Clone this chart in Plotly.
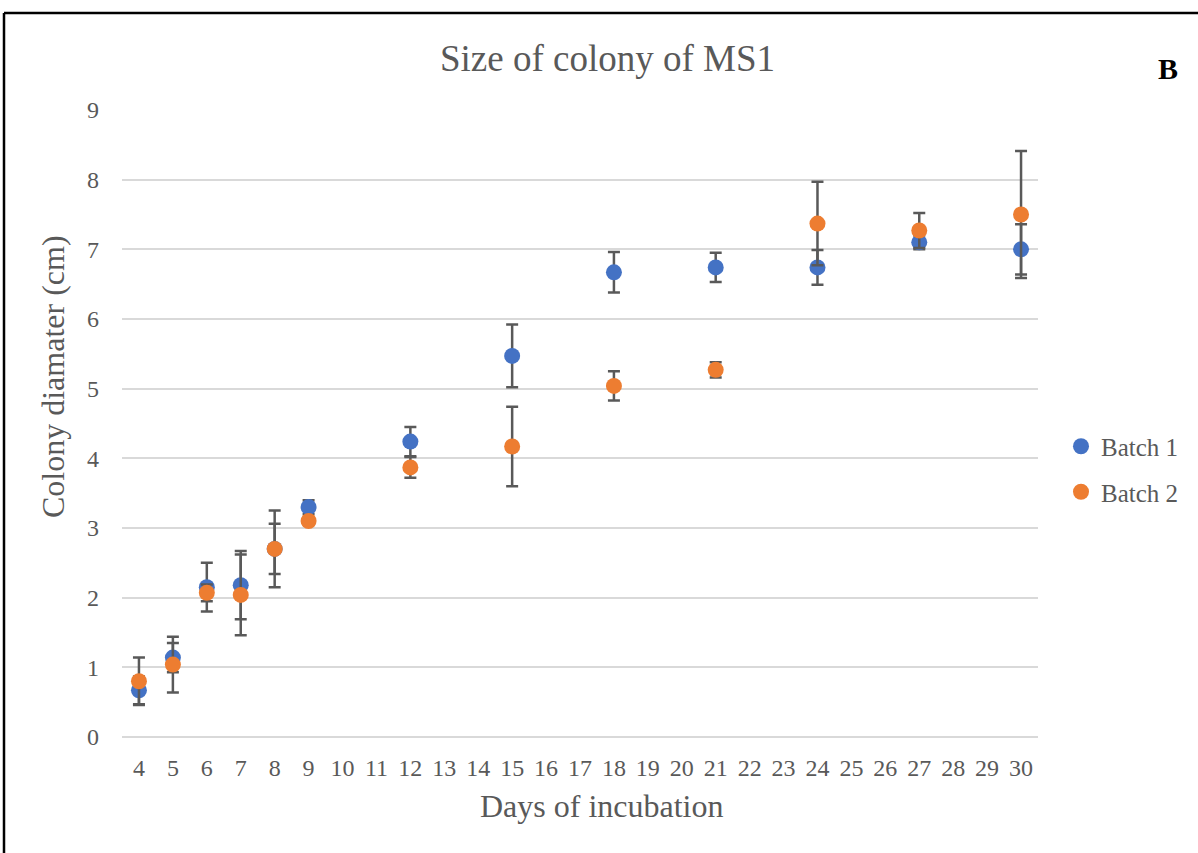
import plotly.graph_objects as go

# Colony diameter measurements (cm) by day of incubation
days = [4, 5, 6, 7, 8, 9, 12, 15, 18, 21, 24, 27, 30]
all_days = [str(d) for d in range(4, 31)]

batch1_mean = [0.67, 1.14, 2.15, 2.18, 2.70, 3.30, 4.24, 5.47, 6.67, 6.74, 6.74, 7.10, 7.00]
batch1_err = [0.20, 0.21, 0.35, 0.49, 0.36, 0.10, 0.21, 0.45, 0.29, 0.21, 0.25, 0.10, 0.36]

batch2_mean = [0.80, 1.04, 2.07, 2.04, 2.70, 3.10, 3.87, 4.17, 5.04, 5.27, 7.37, 7.27, 7.50]
batch2_err = [0.34, 0.40, 0.12, 0.58, 0.55, 0.05, 0.15, 0.57, 0.21, 0.11, 0.60, 0.25, 0.91]

FONT = "Liberation Serif, Times New Roman, serif"
TEXT = "#595959"
ERR = "#595959"

fig = go.Figure()
for name, mean, err, color in [
    ("Batch 1", batch1_mean, batch1_err, "#4472C4"),
    ("Batch 2", batch2_mean, batch2_err, "#ED7D31"),
]:
    fig.add_trace(go.Scatter(
        x=[str(d) for d in days], y=mean, name=name, mode="markers",
        legendgroup=name,
        marker=dict(color=color, size=16),
        error_y=dict(type="data", array=err, visible=True,
                     color=ERR, thickness=2.5, width=6),
    ))

# plot-area geometry in pixels
W, H = 1198, 853
ml, mr, mt, mb = 122, 160, 110, 116
pw, ph = W - ml - mr, H - mt - mb

def px(x):
    return (x - ml) / pw

def py(y):
    return (H - mb - y) / ph

fig.update_layout(
    width=W, height=H,
    margin=dict(l=ml, r=mr, t=mt, b=mb, autoexpand=False),
    paper_bgcolor="white", plot_bgcolor="white",
    font=dict(family=FONT, color=TEXT, size=24),
    xaxis=dict(type="category", categoryorder="array", categoryarray=all_days,
               range=[-0.5, 26.5], showgrid=False, showline=False, zeroline=False,
               ticks="", ticklabelstandoff=14, tickfont=dict(size=24, color=TEXT)),
    yaxis=dict(range=[0, 9], dtick=1, showgrid=True, gridcolor="#D9D9D9", gridwidth=1.5,
               zeroline=True, zerolinecolor="#D9D9D9", zerolinewidth=1.5,
               showline=False, ticks="", ticklabelstandoff=22,
               tickfont=dict(size=24, color=TEXT)),
    legend=dict(x=px(1061), xanchor="left", y=py(469), yanchor="middle",
                font=dict(size=25, color=TEXT), itemwidth=30,
                bgcolor="rgba(0,0,0,0)", tracegroupgap=10),
    annotations=[
        dict(text="Size of colony of MS1", xref="paper", yref="paper",
             x=px(607), y=py(58), xanchor="center", yanchor="middle", showarrow=False,
             font=dict(family=FONT, size=37, color=TEXT)),
        dict(text="Days of incubation", xref="paper", yref="paper",
             x=px(602), y=py(806), xanchor="center", yanchor="middle", showarrow=False,
             font=dict(family=FONT, size=32, color=TEXT)),
        dict(text="Colony diamater (cm)", xref="paper", yref="paper", textangle=-90,
             x=px(53), y=py(377), xanchor="center", yanchor="middle", showarrow=False,
             font=dict(family=FONT, size=32, color=TEXT)),
        dict(text="<b>B</b>", xref="paper", yref="paper",
             x=px(1168), y=py(68), xanchor="center", yanchor="middle",
             showarrow=False, font=dict(family=FONT, size=30, color="black")),
    ],
    shapes=[
        dict(type="line", xref="paper", yref="paper", x0=px(4), x1=px(1210),
             y0=py(13), y1=py(13), line=dict(color="black", width=2.5)),
        dict(type="line", xref="paper", yref="paper", x0=px(4), x1=px(4),
             y0=py(13), y1=py(870), line=dict(color="black", width=2.5)),
    ],
)

fig.write_html("out.html")
